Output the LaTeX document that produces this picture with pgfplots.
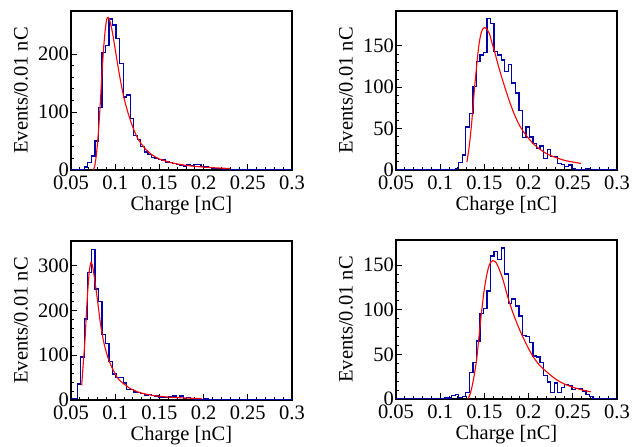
\documentclass[border=0pt]{standalone}
\usepackage{fontspec}
\setmainfont{Liberation Serif}
\usepackage{pgfplots}
\pgfplotsset{compat=1.18}
\definecolor{histblue}{RGB}{0,0,170}
\pgfplotsset{
  rootstyle/.style={
    scale only axis, width=221pt, height=159pt,
    xmin=0.05, xmax=0.3, ymin=0,
    xtick={0.05,0.1,0.15,0.2,0.25,0.3},
    xticklabels={0.05,0.1,0.15,0.2,0.25,0.3},
    minor x tick num=4, minor y tick num=4,
    tick align=inside, xtick pos=bottom, ytick pos=left,
    major tick length=6pt, minor tick length=3pt,
    axis line style={line width=1.1pt},
    tick style={black, line width=0.8pt},
    /pgf/number format/assume math mode=true,
    xticklabel style={anchor=north, inner sep=0pt, yshift=-6pt},
    yticklabel style={anchor=east, inner sep=0pt, xshift=-2pt},
    xlabel={Charge [nC]}, ylabel={Events/0.01 nC},
    xlabel style={at={(axis description cs:0.5,0)}, anchor=north, inner sep=0pt, yshift=-26pt},
    ylabel style={at={(axis description cs:-0.226,0.5)}, anchor=center, inner sep=0pt},
  },
  hist/.style={const plot, histblue, line width=1.3pt, no marks},
  fit/.style={red, line width=1.1pt, smooth, no marks},
}
\begin{document}
\begin{tikzpicture}[font=\fontsize{20.5}{24}\selectfont]
\useasboundingbox (0pt,0pt) rectangle (633pt,447pt);

% top left
\begin{axis}[rootstyle, at={(71pt,277pt)}, anchor=south west, ymax=274, ytick={0,100,200}]
\addplot[hist] coordinates {
 (0.049,0) (0.061,1) (0.065,5) (0.069,13) (0.073,24) (0.077,50) (0.081,108) (0.085,203)
 (0.089,215) (0.093,260) (0.097,250) (0.101,227) (0.105,184) (0.109,126) (0.113,129)
 (0.117,89) (0.121,60) (0.125,53) (0.129,40) (0.133,31) (0.137,27) (0.141,22) (0.145,20)
 (0.149,18) (0.153,17) (0.157,14) (0.161,13) (0.165,11) (0.169,10) (0.173,8) (0.177,7)
 (0.181,9) (0.185,8) (0.189,9) (0.193,9) (0.197,6) (0.201,5) (0.205,4) (0.209,3) (0.213,3)
 (0.217,2) (0.221,1) (0.225,2) (0.229,1) (0.233,0) (0.245,1) (0.249,0) (0.265,1) (0.269,0)
 (0.301,0)};
\addplot[fit] coordinates {
 (0.0753,0) (0.077,8) (0.079,30) (0.081,65) (0.083,112) (0.085,165) (0.087,212) (0.089,245)
 (0.0905,260) (0.092,263) (0.094,257) (0.097,236) (0.100,208) (0.103,180) (0.106,154)
 (0.109,131) (0.112,112) (0.115,96) (0.118,82) (0.122,66) (0.126,53) (0.130,44) (0.135,35)
 (0.140,28) (0.145,23) (0.150,19) (0.160,14) (0.170,10.5) (0.180,8) (0.190,6.3) (0.200,5)
 (0.210,4) (0.220,3.2) (0.230,2.6)};
\end{axis}

% top right
\begin{axis}[rootstyle, at={(396pt,277pt)}, anchor=south west, ymax=192, ytick={0,50,100,150}]
\addplot[hist] coordinates {
 (0.049,0) (0.101,1) (0.105,0) (0.109,1) (0.113,0) (0.117,2) (0.121,9) (0.125,18) (0.129,52)
 (0.133,68) (0.137,101) (0.141,131) (0.145,139) (0.149,142) (0.153,183) (0.157,177)
 (0.161,143) (0.165,139) (0.169,133) (0.173,119) (0.177,127) (0.181,105) (0.185,93)
 (0.189,72) (0.193,39) (0.197,52) (0.201,40) (0.205,32) (0.209,26) (0.213,29) (0.217,14)
 (0.221,25) (0.225,16) (0.229,16) (0.233,8) (0.237,7) (0.241,4) (0.245,6) (0.249,2)
 (0.253,1) (0.257,0) (0.261,1) (0.265,2) (0.269,1) (0.273,0) (0.301,0)};
\addplot[fit] coordinates {
 (0.1303,10) (0.1330,30) (0.1352,52) (0.1370,75) (0.1390,101) (0.1410,123) (0.1427,141)
 (0.1445,156) (0.1465,166) (0.1485,171) (0.1502,172) (0.1520,171) (0.1540,168) (0.1559,164)
 (0.1585,154) (0.1615,143) (0.1645,131) (0.1671,121) (0.1710,107) (0.1746,95) (0.1780,84)
 (0.1821,72) (0.1860,62) (0.1896,54) (0.1950,45) (0.2009,37) (0.2060,31) (0.2122,25.5)
 (0.2200,20) (0.2272,16.5) (0.2350,13.5) (0.2422,11.2) (0.2500,9.6) (0.2591,8)};
\end{axis}

% bottom left
\begin{axis}[rootstyle, at={(71pt,47pt)}, anchor=south west, ymax=355, ytick={0,100,200,300}]
\addplot[hist] coordinates {
 (0.049,3) (0.053,4) (0.057,36) (0.061,96) (0.065,181) (0.069,285) (0.073,336) (0.077,248)
 (0.081,220) (0.085,146) (0.089,126) (0.093,86) (0.097,58) (0.101,50) (0.105,50) (0.109,38)
 (0.113,24) (0.117,23) (0.121,18) (0.125,16) (0.129,15) (0.133,11) (0.137,13) (0.141,10)
 (0.145,9) (0.149,7) (0.153,5) (0.157,6) (0.161,7) (0.165,9) (0.169,5) (0.173,9) (0.177,4)
 (0.181,5) (0.185,3) (0.189,2) (0.193,1) (0.197,1) (0.201,2) (0.205,1) (0.209,0) (0.301,0)};
\addplot[fit] coordinates {
 (0.0621,33) (0.064,85) (0.0658,133) (0.0672,185) (0.0685,230) (0.0704,281) (0.0715,298)
 (0.0726,307) (0.074,302) (0.0753,289) (0.077,266) (0.079,237) (0.081,207) (0.0828,178)
 (0.0847,154) (0.0866,133) (0.0885,117) (0.0903,104) (0.093,88) (0.096,74) (0.099,62)
 (0.1017,52) (0.105,44) (0.1092,37) (0.113,31) (0.1167,26) (0.122,21) (0.128,16.5)
 (0.135,13) (0.1431,10) (0.152,8) (0.162,6.3) (0.171,5.2) (0.1808,4.3) (0.190,3.6) (0.1978,3.1)};
\end{axis}

% bottom right
\begin{axis}[rootstyle, at={(396pt,48pt)}, anchor=south west, ymax=178, ytick={0,50,100,150}]
\addplot[hist] coordinates {
 (0.049,0) (0.105,1) (0.109,1) (0.113,4) (0.117,5) (0.121,2) (0.125,3) (0.129,7) (0.133,30)
 (0.137,41) (0.141,65) (0.145,96) (0.149,101) (0.153,121) (0.157,160) (0.161,165) (0.165,156)
 (0.169,169) (0.173,140) (0.177,107) (0.181,112) (0.185,104) (0.189,93) (0.193,71) (0.197,70)
 (0.201,63) (0.205,48) (0.209,47) (0.213,41) (0.217,26) (0.221,19) (0.225,7) (0.229,18)
 (0.233,7) (0.237,13) (0.241,16) (0.245,15) (0.249,11) (0.253,12) (0.257,12) (0.261,9)
 (0.265,5) (0.269,3) (0.273,0) (0.301,0)};
\addplot[fit] coordinates {
 (0.1315,0) (0.1340,6) (0.1371,19) (0.1408,41) (0.1427,58) (0.1465,95) (0.1502,125)
 (0.1540,145) (0.1570,153) (0.1596,155) (0.1620,154) (0.1652,149) (0.1709,134) (0.1765,114)
 (0.1821,97) (0.1896,78) (0.1971,62) (0.2047,48) (0.2122,38) (0.2197,31) (0.2310,22)
 (0.2422,16) (0.2572,11) (0.2703,8)};
\end{axis}
\end{tikzpicture}
\end{document}
